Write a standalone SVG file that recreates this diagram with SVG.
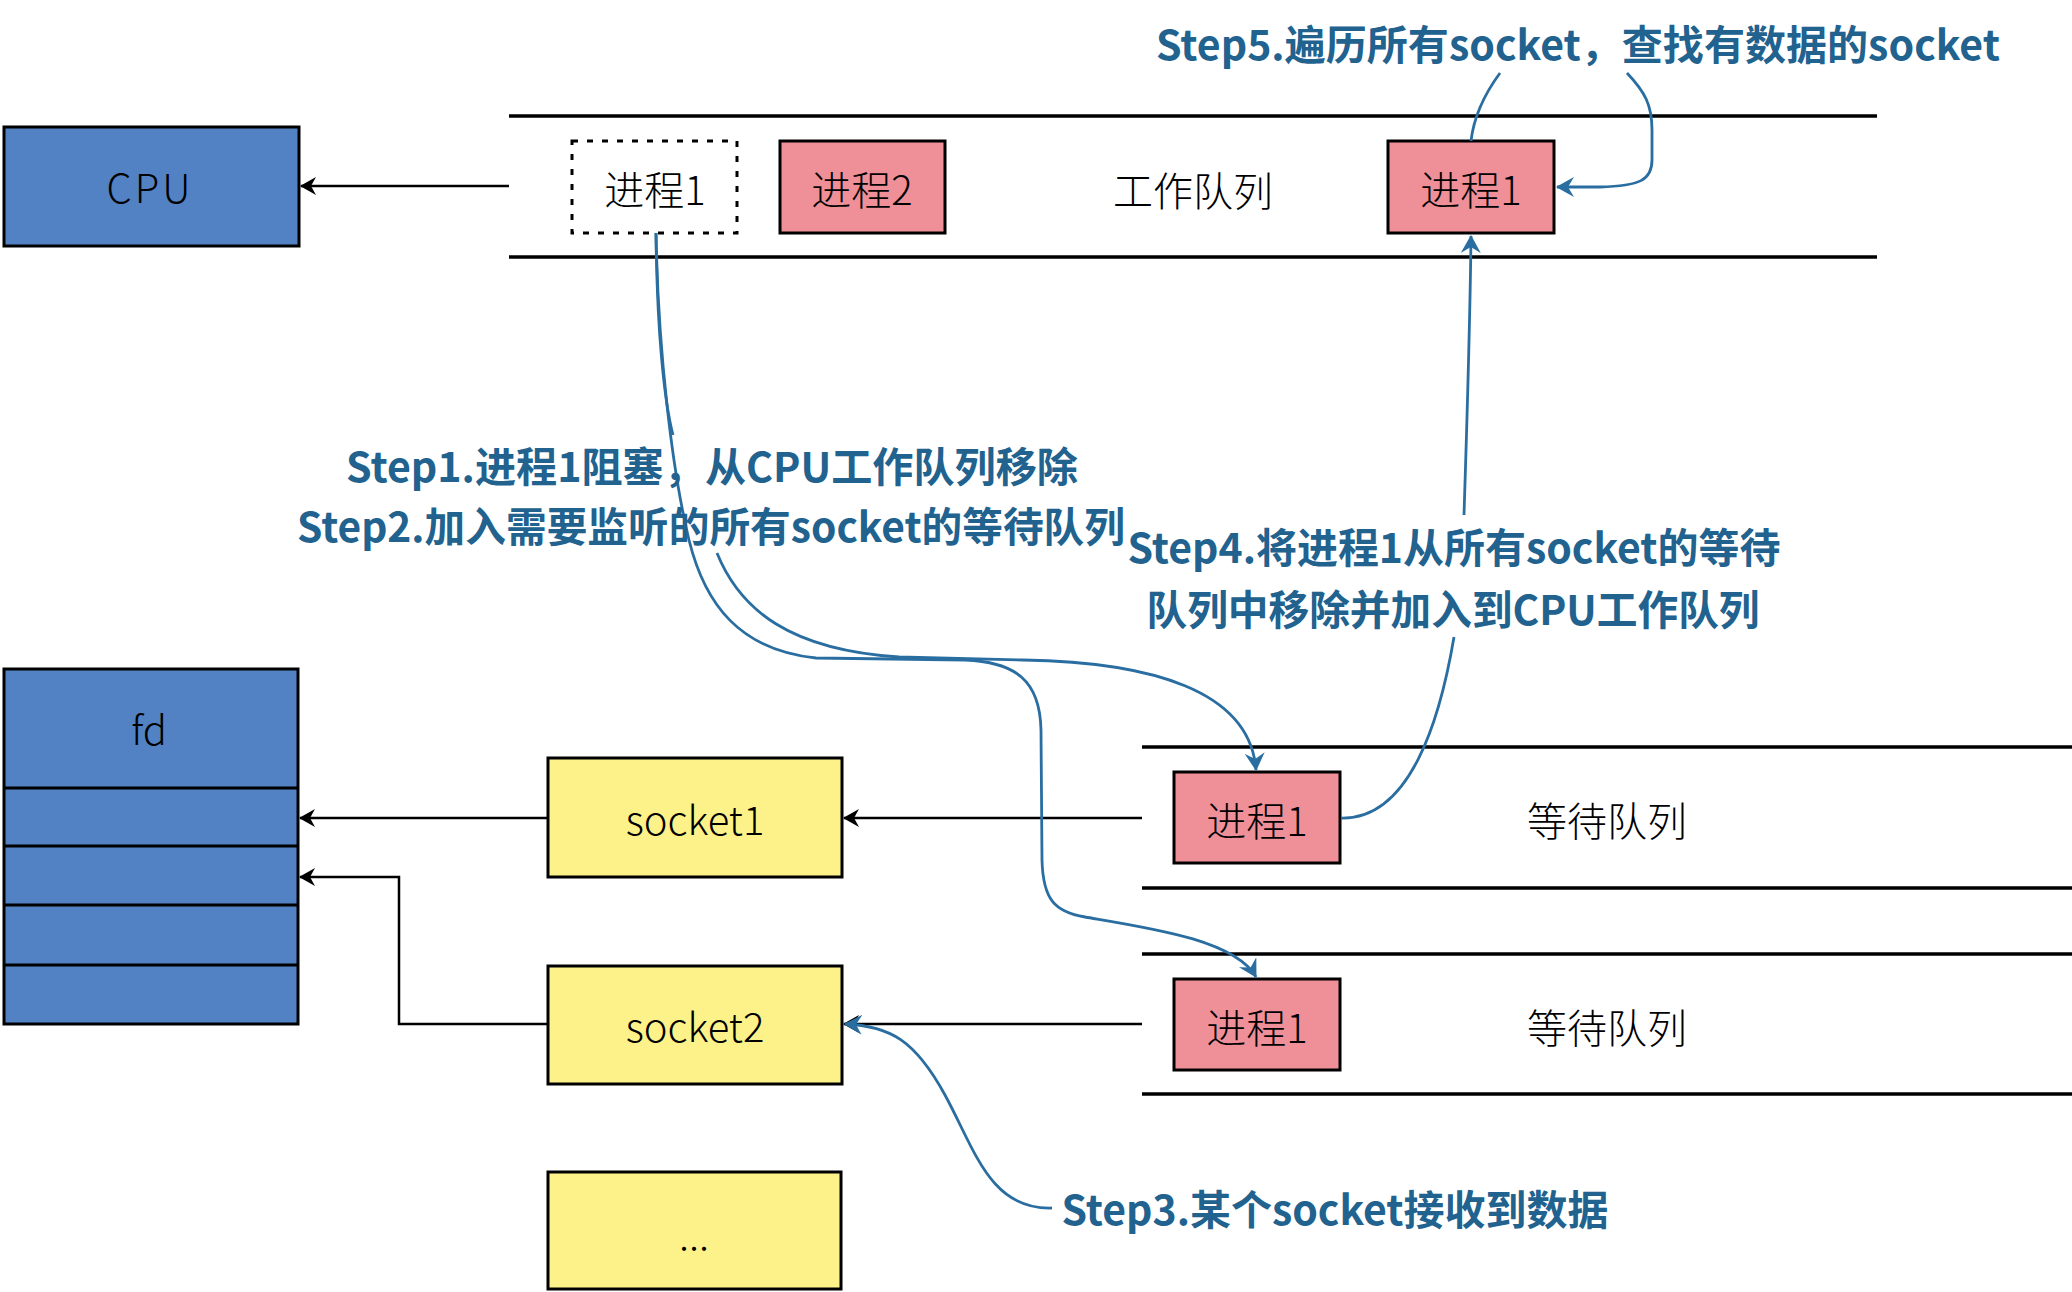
<svg xmlns="http://www.w3.org/2000/svg" width="2072" height="1292" viewBox="0 0 2072 1292">
<style>
.lbl{font-family:"Noto Sans CJK SC","Noto Sans",sans-serif;font-size:40px;font-weight:300;fill:#000;text-anchor:middle}
.step{font-family:"Noto Sans CJK SC","Noto Sans",sans-serif;font-size:41px;font-weight:bold;fill:#21628F;text-anchor:middle}
.box{stroke:#000;stroke-width:3}
.blue{fill:#5282C3}
.pink{fill:#EF8F98}
.yellow{fill:#FDF289}
.qline{stroke:#000;stroke-width:3.5}
.bc{fill:none;stroke:#000;stroke-width:2.5}
.uc{fill:none;stroke:#2A6EA1;stroke-width:2.8}
</style>
<defs>
<marker id="ab" markerUnits="userSpaceOnUse" viewBox="0 0 16 18" markerWidth="16" markerHeight="18" refX="15" refY="9" orient="auto">
<path d="M0,0 L16,9 L0,18 L5,9 z" fill="#000"/>
</marker>
<marker id="au" markerUnits="userSpaceOnUse" viewBox="0 0 18 20" markerWidth="18" markerHeight="20" refX="17" refY="10" orient="auto">
<path d="M0,0 L18,10 L0,20 L6,10 z" fill="#2A6EA1"/>
</marker>
</defs>
<rect width="2072" height="1292" fill="#fff"/>

<g id="work-queue">
<line class="qline" x1="509" y1="116" x2="1877" y2="116"/>
<line class="qline" x1="509" y1="257" x2="1877" y2="257"/>
<text class="lbl" x="1193" y="206">工作队列</text>
</g>
<g id="wait-queue-1">
<line class="qline" x1="1142" y1="747" x2="2072" y2="747"/>
<line class="qline" x1="1142" y1="888" x2="2072" y2="888"/>
<text class="lbl" x="1607" y="836">等待队列</text>
</g>
<g id="wait-queue-2">
<line class="qline" x1="1142" y1="954" x2="2072" y2="954"/>
<line class="qline" x1="1142" y1="1094" x2="2072" y2="1094"/>
<text class="lbl" x="1607" y="1043">等待队列</text>
</g>

<g id="cpu">
<rect class="box blue" x="4" y="127" width="295" height="119"/>
<text class="lbl" x="150" y="203" font-size="42" letter-spacing="3">CPU</text>
</g>
<g id="proc1-blocked">
<rect x="572" y="141" width="165" height="92" fill="none" stroke="#000" stroke-width="3" stroke-dasharray="6 9"/>
<text class="lbl" x="655" y="205">进程1</text>
</g>
<g id="proc2">
<rect class="box pink" x="780" y="141" width="165" height="92"/>
<text class="lbl" x="862" y="205">进程2</text>
</g>
<g id="proc1-run">
<rect class="box pink" x="1388" y="141" width="166" height="92"/>
<text class="lbl" x="1471" y="205">进程1</text>
</g>

<g id="fd">
<rect class="box blue" x="4" y="669" width="294" height="355"/>
<line class="box" x1="4" y1="788" x2="298" y2="788"/>
<line class="box" x1="4" y1="846" x2="298" y2="846"/>
<line class="box" x1="4" y1="905" x2="298" y2="905"/>
<line class="box" x1="4" y1="965" x2="298" y2="965"/>
<text class="lbl" x="149" y="745">fd</text>
</g>
<g id="socket1">
<rect class="box yellow" x="548" y="758" width="294" height="119"/>
<text class="lbl" x="695" y="835">socket1</text>
</g>
<g id="socket2">
<rect class="box yellow" x="548" y="966" width="294" height="118"/>
<text class="lbl" x="695" y="1042">socket2</text>
</g>
<g id="socket-more">
<rect class="box yellow" x="548" y="1172" width="293" height="117"/>
<text class="lbl" x="694" y="1250" font-size="30">...</text>
</g>
<g id="wait-proc1-a">
<rect class="box pink" x="1174" y="772" width="166" height="91"/>
<text class="lbl" x="1257" y="836">进程1</text>
</g>
<g id="wait-proc1-b">
<rect class="box pink" x="1174" y="979" width="166" height="91"/>
<text class="lbl" x="1257" y="1043">进程1</text>
</g>

<g id="connectors">
<path class="bc" d="M509,186 L301,186" marker-end="url(#ab)"/>
<path class="bc" d="M548,818 L300,818" marker-end="url(#ab)"/>
<path class="bc" d="M1142,818 L844,818" marker-end="url(#ab)"/>
<path class="bc" d="M1142,1024 L844,1024" marker-end="url(#ab)"/>
<path class="bc" d="M548,1024 L399,1024 L399,877 L300,877" marker-end="url(#ab)"/>
<path class="uc" d="M656,233 C657,330 664,400 673,435"/>
<path class="uc" d="M717,553 C740,610 790,650 899,657 L1023,660 C1150,662 1250,690 1256,770" marker-end="url(#au)"/>
<path class="uc" d="M656,233 C658,350 672,470 689,540 C705,605 740,650 816,658 L965,660 C1015,662 1040,680 1041,730 L1042,860 C1043,900 1055,912 1085,917 C1150,928 1235,940 1256,977" marker-end="url(#au)"/>
<path class="uc" d="M1052,1208 C990,1210 975,1150 945,1095 C915,1040 890,1026 845,1024" marker-end="url(#au)"/>
<path class="uc" d="M1341,818 C1410,820 1440,720 1454,637"/>
<path class="uc" d="M1464,515 C1467,420 1470,330 1471,236" marker-end="url(#au)"/>
<path class="uc" d="M1471,141 C1474,115 1486,92 1500,73"/>
<path class="uc" d="M1627,73 C1645,92 1652,105 1652,130 L1652,160 C1652,180 1640,186 1600,187 L1557,187" marker-end="url(#au)"/>
</g>

<g id="step5"><text class="step" x="1578" y="60" textLength="844" lengthAdjust="spacingAndGlyphs">Step5.遍历所有socket，查找有数据的socket</text></g>
<g id="step1-2">
<text class="step" x="712" y="482" textLength="732" lengthAdjust="spacingAndGlyphs">Step1.进程1阻塞，从CPU工作队列移除</text>
<text class="step" x="711" y="542" textLength="828" lengthAdjust="spacingAndGlyphs">Step2.加入需要监听的所有socket的等待队列</text>
</g>
<g id="step4">
<text class="step" x="1454" y="563" textLength="653" lengthAdjust="spacingAndGlyphs">Step4.将进程1从所有socket的等待</text>
<text class="step" x="1453" y="625" textLength="613" lengthAdjust="spacingAndGlyphs">队列中移除并加入到CPU工作队列</text>
</g>
<g id="step3"><text class="step" x="1335" y="1225" textLength="547" lengthAdjust="spacingAndGlyphs">Step3.某个socket接收到数据</text></g>
</svg>
